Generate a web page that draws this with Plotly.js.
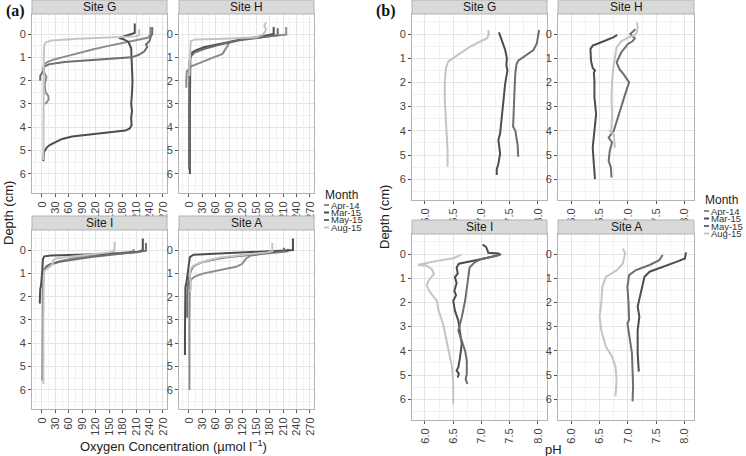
<!DOCTYPE html>
<html>
<head>
<meta charset="utf-8">
<script src="https://cdn.plot.ly/plotly-3.0.1.min.js"></script>
<style>
html,body{margin:0;padding:0;background:#fff;}
#chart{width:746px;height:456px;}
</style>
</head>
<body>
<div id="chart"></div>
<script>
// ---------- categories / labels ----------
const months = ['Apr-14', 'Mar-15', 'May-15', 'Aug-15'];
const monthColors = ['#8c8c8c', '#4d4d4d', '#6e6e6e', '#c4c4c4'];
const sites = ['Site G', 'Site H', 'Site I', 'Site A'];
const oxTicks = [0, 30, 60, 90, 120, 150, 180, 210, 240, 270];
const phTicks = [6.0, 6.5, 7.0, 7.5, 8.0];
const phTickText = ['6.0', '6.5', '7.0', '7.5', '8.0'];
const depthTicks = [0, 1, 2, 3, 4, 5, 6];

// ---------- oxygen profiles [value, depth] ----------
const oxG_Apr14 = [[242,-0.3],[242,0.0],[238,0.15],[215,0.25],[190,0.35],[160,0.47],[141,0.54],[115,0.65],[89,0.79],[65,0.9],[45,1.0],[25,1.1],[12,1.2],[5,1.3],[3,1.5],[6,1.7],[10,1.85],[8,2.0],[6,2.2],[8,2.5],[14,2.65],[15,2.8],[10,2.95],[6,3.0]];
const oxG_Mar15 = [[207,-0.45],[207,-0.05],[200,0.0],[185,0.1],[172,0.17],[182,0.22],[193,0.34],[199,0.6],[200,1.0],[201,1.5],[202,2.0],[201,2.5],[199,3.0],[201,3.3],[199,3.6],[200,3.9],[196,4.05],[186,4.14],[160,4.2],[126,4.26],[90,4.33],[67,4.4],[45,4.5],[30,4.64],[18,4.75],[11,4.86],[6,5.0],[4,5.14],[3,5.45]];
const oxG_May15 = [[246,-0.3],[246,0.0],[243,0.1],[240,0.3],[232,0.45],[235,0.55],[228,0.75],[215,0.9],[200,1.0],[150,1.06],[100,1.12],[50,1.2],[15,1.3],[5,1.4],[2,1.6],[-4,1.8],[-4,2.0]];
const oxG_Aug15 = [[217,-0.22],[217,0.05],[210,0.1],[150,0.14],[80,0.2],[20,0.28],[8,0.36],[5,0.5],[4,1.0],[4,2.0],[4,3.0],[4,4.0],[3,5.0],[3,5.4]];

const oxH_Apr14 = [[217,-0.3],[217,0.02],[180,0.1],[140,0.17],[110,0.25],[95,0.32],[88,0.4],[86,0.5],[82,0.65],[75,0.85],[55,1.0],[35,1.15],[15,1.28],[5,1.38],[0,1.5],[-5,1.6],[-6,2.0],[-6,2.3]];
const oxH_Mar15 = [[189,-0.3],[189,0.0],[175,0.05],[159,0.11],[120,0.22],[85,0.36],[55,0.47],[33,0.57],[15,0.7],[7,0.79],[3,1.0],[2,2.0],[2,3.0],[2,4.0],[2,5.0],[2,6.0]];
const oxH_May15 = [[198,-0.25],[198,0.05],[170,0.12],[110,0.28],[70,0.45],[35,0.63],[12,0.8],[4,0.95],[1,1.2],[0,2.0],[0,3.0],[0,4.0],[0,5.0],[0,5.8]];
const oxH_Aug15 = [[172,-0.5],[168,-0.35],[172,-0.2],[170,-0.1],[165,0.02],[150,0.14],[80,0.2],[15,0.23],[4,0.3],[3,0.6],[2,1.0],[1,1.5],[1,1.8]];

const oxI_Apr14 = [[205,-0.05],[205,0.05],[190,0.1],[130,0.2],[80,0.32],[40,0.48],[15,0.65],[6,0.8],[3,1.0],[2,1.3]];
const oxI_Mar15 = [[225,-0.5],[225,0.0],[215,0.08],[180,0.14],[120,0.18],[60,0.21],[20,0.23],[5,0.27],[2,0.4],[1,0.8],[0,1.2],[-2,1.5],[-4,1.7],[-5,2.0],[-5,2.3]];
const oxI_May15 = [[232,-0.3],[232,0.03],[225,0.05],[200,0.1],[150,0.2],[110,0.3],[75,0.4],[40,0.5],[20,0.6],[10,0.7],[5,0.85],[3,1.2],[2,2.0],[2,3.0],[2,4.0],[2,5.0],[1,5.6]];
const oxI_Aug15 = [[162,-0.36],[162,0.02],[150,0.1],[90,0.22],[50,0.3],[30,0.36],[25,0.45],[24,0.6],[18,0.7],[10,0.8],[5,0.9],[4,1.2],[3,2.0],[3,3.0],[3,4.0],[3,5.0],[3,5.75]];

const oxA_Apr14 = [[222,-0.05],[220,0.05],[200,0.1],[160,0.17],[137,0.25],[128,0.35],[124,0.45],[118,0.6],[105,0.72],[85,0.8],[60,0.9],[33,1.0],[15,1.12],[7,1.22],[2,1.36],[1,2.0],[1,3.0],[1,4.0],[1,5.0],[1,6.0]];
const oxA_Mar15 = [[232,-0.5],[232,0.0],[215,0.02],[180,0.05],[120,0.1],[60,0.15],[10,0.2],[2,0.3],[0,0.6],[-2,1.0],[-5,1.3],[-8,1.6],[-9,2.5],[-9,3.5],[-9,4.5]];
const oxA_May15 = [[212,-0.1],[212,0.05],[190,0.1],[150,0.18],[110,0.25],[80,0.32],[50,0.43],[25,0.55],[10,0.7],[4,0.9],[0,1.2],[-3,1.6],[-4,2.0],[-4,2.9]];
const oxA_Aug15 = [[186,-0.3],[186,0.05],[175,0.1],[140,0.18],[100,0.25],[70,0.32],[40,0.45],[20,0.58],[8,0.7],[3,0.85],[2,1.1],[4,1.4],[4,1.7],[2,1.8]];

// ---------- pH profiles [value, depth] ----------
const phG_Mar15 = [[7.31,-0.07],[7.33,0.1],[7.36,0.26],[7.42,0.66],[7.45,1.0],[7.44,1.3],[7.46,1.5],[7.42,2.04],[7.39,2.73],[7.36,3.42],[7.33,4.1],[7.3,4.38],[7.33,4.94],[7.3,5.35],[7.27,5.6],[7.27,5.83]];
const phG_May15 = [[8.02,-0.17],[8.0,0.1],[7.98,0.39],[7.92,0.66],[7.74,0.94],[7.65,1.1],[7.62,1.25],[7.6,1.6],[7.59,2.04],[7.58,3.0],[7.56,3.83],[7.6,4.0],[7.62,4.25],[7.64,4.6],[7.65,5.07]];
const phG_Aug15 = [[7.12,-0.17],[7.13,0.0],[7.1,0.17],[6.97,0.32],[6.8,0.52],[6.62,0.8],[6.5,1.0],[6.41,1.14],[6.37,1.42],[6.35,2.04],[6.35,2.7],[6.37,3.4],[6.38,4.1],[6.4,4.8],[6.4,5.49]];

const phH_Mar15 = [[6.81,0.03],[6.74,0.14],[6.53,0.34],[6.38,0.48],[6.34,0.62],[6.35,1.1],[6.38,1.4],[6.42,1.5],[6.4,1.6],[6.41,1.93],[6.41,2.62],[6.44,3.31],[6.41,4.0],[6.38,4.69],[6.4,5.38],[6.42,6.0]];
const phH_May15 = [[7.13,-0.2],[7.1,-0.12],[7.04,0.0],[7.12,0.18],[7.08,0.3],[7.0,0.41],[6.88,0.76],[6.8,1.17],[6.85,1.45],[6.94,1.72],[7.02,2.0],[6.97,2.34],[6.88,3.03],[6.8,3.59],[6.75,4.0],[6.66,4.28],[6.72,4.48],[6.68,4.83],[6.66,5.24],[6.7,5.52],[6.71,5.93]];
const phH_Aug15 = [[7.16,-0.48],[7.17,-0.3],[7.16,-0.1],[7.12,0.05],[7.0,0.15],[6.88,0.3],[6.8,0.55],[6.78,0.8],[6.75,1.24],[6.72,1.93],[6.71,2.62],[6.72,3.31],[6.71,3.93],[6.68,4.0],[6.75,4.14],[6.77,4.69]];

const phI_Mar15 = [[7.02,-0.39],[7.08,-0.3],[7.1,-0.2],[7.12,-0.05],[7.3,-0.02],[7.33,0.03],[7.05,0.18],[6.8,0.3],[6.6,0.4],[6.56,0.55],[6.58,0.8],[6.53,0.96],[6.56,1.2],[6.52,1.52],[6.55,1.7],[6.5,1.93],[6.53,2.34],[6.59,2.75],[6.62,3.17],[6.65,3.72],[6.62,4.27],[6.59,4.68],[6.56,4.82],[6.6,4.95],[6.58,5.1]];
const phI_May15 = [[7.35,0.0],[7.25,0.08],[7.0,0.2],[6.88,0.34],[6.79,0.55],[6.77,0.9],[6.74,1.24],[6.71,1.93],[6.65,2.62],[6.59,3.17],[6.65,3.58],[6.71,4.0],[6.74,4.41],[6.74,4.96],[6.72,5.17],[6.75,5.37]];
const phI_Aug15 = [[6.64,0.03],[6.5,0.17],[6.29,0.25],[5.94,0.39],[5.88,0.44],[6.03,0.48],[6.12,0.62],[6.16,0.83],[6.06,1.1],[6.03,1.31],[6.09,1.58],[6.21,1.93],[6.24,2.34],[6.32,2.89],[6.34,3.1],[6.38,3.58],[6.44,4.13],[6.48,4.68],[6.5,5.37],[6.5,6.2]];

const phA_Mar15 = [[8.02,-0.07],[8.0,0.18],[7.85,0.32],[7.61,0.52],[7.38,0.73],[7.29,0.94],[7.25,1.35],[7.2,1.9],[7.17,2.17],[7.2,2.59],[7.17,3.14],[7.17,4.1],[7.19,4.86]];
const phA_May15 = [[7.61,0.04],[7.55,0.25],[7.38,0.45],[7.14,0.66],[7.02,0.87],[6.99,1.35],[7.01,2.04],[7.02,2.72],[6.99,2.86],[7.03,3.41],[7.07,4.1],[7.08,4.79],[7.09,5.47],[7.08,6.09]];
const phA_Aug15 = [[6.91,-0.23],[6.95,-0.03],[6.91,0.39],[6.81,0.66],[6.61,0.94],[6.55,1.35],[6.53,2.04],[6.5,2.59],[6.53,3.14],[6.61,3.82],[6.72,4.24],[6.78,4.65],[6.8,5.2],[6.78,5.89]];

// ---------- assembly ----------
const W = 746, H = 456;
const fx = p => p / W;
const fy = p => 1 - p / H;

// panels: [left, right, top, bottom] in px
const panels = [
  {ax: 1, box: [32, 167, 14, 193],  site: 0, kind: 'ox'},
  {ax: 2, box: [179, 314, 14, 193], site: 1, kind: 'ox'},
  {ax: 3, box: [32, 167, 230, 409], site: 2, kind: 'ox'},
  {ax: 4, box: [179, 314, 230, 409], site: 3, kind: 'ox'},
  {ax: 5, box: [412, 547, 14, 200], site: 0, kind: 'ph'},
  {ax: 6, box: [558, 694, 14, 200], site: 1, kind: 'ph'},
  {ax: 7, box: [412, 547, 234, 420], site: 2, kind: 'ph'},
  {ax: 8, box: [558, 694, 234, 420], site: 3, kind: 'ph'}
];

const seriesByPanel = {
  1: [oxG_Apr14, oxG_Mar15, oxG_May15, oxG_Aug15],
  2: [oxH_Apr14, oxH_Mar15, oxH_May15, oxH_Aug15],
  3: [oxI_Apr14, oxI_Mar15, oxI_May15, oxI_Aug15],
  4: [oxA_Apr14, oxA_Mar15, oxA_May15, oxA_Aug15],
  5: [null, phG_Mar15, phG_May15, phG_Aug15],
  6: [null, phH_Mar15, phH_May15, phH_Aug15],
  7: [null, phI_Mar15, phI_May15, phI_Aug15],
  8: [null, phA_Mar15, phA_May15, phA_Aug15]
};

const traces = [];
const layout = {
  width: W, height: H,
  margin: {l: 0, r: 0, t: 0, b: 0},
  paper_bgcolor: '#fff', plot_bgcolor: '#fff',
  showlegend: false,
  font: {family: 'Liberation Sans, Arial, sans-serif', color: '#333'},
  shapes: [], annotations: []
};

const tickFont = {family: 'Liberation Sans, Arial, sans-serif', size: 11, color: '#444'};

panels.forEach(p => {
  const [l, r, t, b] = p.box;
  const xa = 'xaxis' + (p.ax === 1 ? '' : p.ax);
  const ya = 'yaxis' + (p.ax === 1 ? '' : p.ax);
  const xr = p.ax === 1 ? 'x' : 'x' + p.ax;
  const yr = p.ax === 1 ? 'y' : 'y' + p.ax;
  const isOx = p.kind === 'ox';
  layout[xa] = {
    domain: [fx(l), fx(r)], anchor: yr,
    range: isOx ? [-22.3, 279] : [5.77, 8.16],
    tickmode: 'array',
    tickvals: isOx ? oxTicks : phTicks,
    ticktext: isOx ? oxTicks.map(String) : phTickText,
    tickangle: -90, tickfont: tickFont,
    ticks: 'outside', ticklen: 3, tickcolor: '#555', tickwidth: 1,
    showline: true, mirror: true, linecolor: '#b3b3b3', linewidth: 1,
    showgrid: true, gridcolor: '#e4e4e4', gridwidth: 1,
    minor: {dtick: isOx ? 15 : 0.25, tick0: 0, showgrid: true, gridcolor: '#f2f2f2', gridwidth: 1, ticks: ''},
    zeroline: false, fixedrange: true
  };
  layout[ya] = {
    domain: [fy(b), fy(t)], anchor: xr,
    range: isOx ? [6.82, -0.86] : [6.86, -0.83],
    tickmode: 'array', tickvals: depthTicks, ticktext: depthTicks.map(String),
    tickfont: tickFont,
    ticks: 'outside', ticklen: 3, tickcolor: '#555', tickwidth: 1,
    showline: true, mirror: true, linecolor: '#b3b3b3', linewidth: 1,
    showgrid: true, gridcolor: '#e4e4e4', gridwidth: 1,
    minor: {dtick: 0.5, tick0: 0, showgrid: true, gridcolor: '#f2f2f2', gridwidth: 1, ticks: ''},
    zeroline: false, fixedrange: true
  };
  // strip
  layout.shapes.push({
    type: 'rect', xref: 'paper', yref: 'paper',
    x0: fx(l), x1: fx(r), y0: fy(t), y1: fy(t - 14),
    fillcolor: '#d9d9d9', line: {color: '#b3b3b3', width: 1}, layer: 'above'
  });
  layout.annotations.push({
    xref: 'paper', yref: 'paper', x: fx((l + r) / 2), y: fy(t - 7),
    text: sites[p.site], showarrow: false, xanchor: 'center', yanchor: 'middle',
    font: {size: 12, color: '#1a1a1a'}
  });
  // lines
  seriesByPanel[p.ax].forEach((s, mi) => {
    if (!s) return;
    traces.push({
      type: 'scatter', mode: 'lines', xaxis: xr, yaxis: yr,
      x: s.map(d => d[0]), y: s.map(d => d[1]),
      name: months[mi], line: {color: monthColors[mi], width: 2},
      hoverinfo: 'skip'
    });
  });
});

// axis titles and panel labels
layout.annotations.push(
  {xref: 'paper', yref: 'paper', x: fx(9), y: fy(213), text: 'Depth (cm)', textangle: -90,
   showarrow: false, font: {size: 13, color: '#222'}, xanchor: 'center', yanchor: 'middle'},
  {xref: 'paper', yref: 'paper', x: fx(384), y: fy(217), text: 'Depth (cm)', textangle: -90,
   showarrow: false, font: {size: 13, color: '#222'}, xanchor: 'center', yanchor: 'middle'},
  {xref: 'paper', yref: 'paper', x: fx(173), y: fy(446), text: 'Oxygen Concentration (µmol l<sup>−1</sup>)',
   showarrow: false, font: {size: 13, color: '#222'}, xanchor: 'center', yanchor: 'middle'},
  {xref: 'paper', yref: 'paper', x: fx(553), y: fy(449), text: 'pH',
   showarrow: false, font: {size: 13, color: '#222'}, xanchor: 'center', yanchor: 'middle'},
  {xref: 'paper', yref: 'paper', x: fx(4), y: fy(11), text: '<b>(a)</b>',
   showarrow: false, font: {family: 'Liberation Serif, Times New Roman, serif', size: 16, color: '#111'}, xanchor: 'left', yanchor: 'middle'},
  {xref: 'paper', yref: 'paper', x: fx(374), y: fy(11), text: '<b>(b)</b>',
   showarrow: false, font: {family: 'Liberation Serif, Times New Roman, serif', size: 16, color: '#111'}, xanchor: 'left', yanchor: 'middle'}
);

// legends (drawn manually, compact like the reference)
function addLegend(x, yTitle, yItems) {
  layout.annotations.push({xref: 'paper', yref: 'paper', x: fx(x - 1), y: fy(yTitle), text: 'Month',
    showarrow: false, xanchor: 'left', yanchor: 'middle', font: {size: 12, color: '#222'}});
  months.forEach((m, i) => {
    layout.shapes.push({type: 'line', xref: 'paper', yref: 'paper',
      x0: fx(x), x1: fx(x + 5), y0: fy(yItems[i]), y1: fy(yItems[i]),
      line: {color: monthColors[i], width: 2}});
    layout.annotations.push({xref: 'paper', yref: 'paper', x: fx(x + 5), y: fy(yItems[i]), text: m,
      showarrow: false, xanchor: 'left', yanchor: 'middle', font: {size: 9.5, color: '#333'}});
  });
}
addLegend(324, 195, [205, 212.5, 220, 227.5]);
addLegend(704, 200, [211, 218.5, 226, 233.5]);

Plotly.newPlot('chart', traces, layout, {staticPlot: true, displayModeBar: false});
</script>
</body>
</html>
